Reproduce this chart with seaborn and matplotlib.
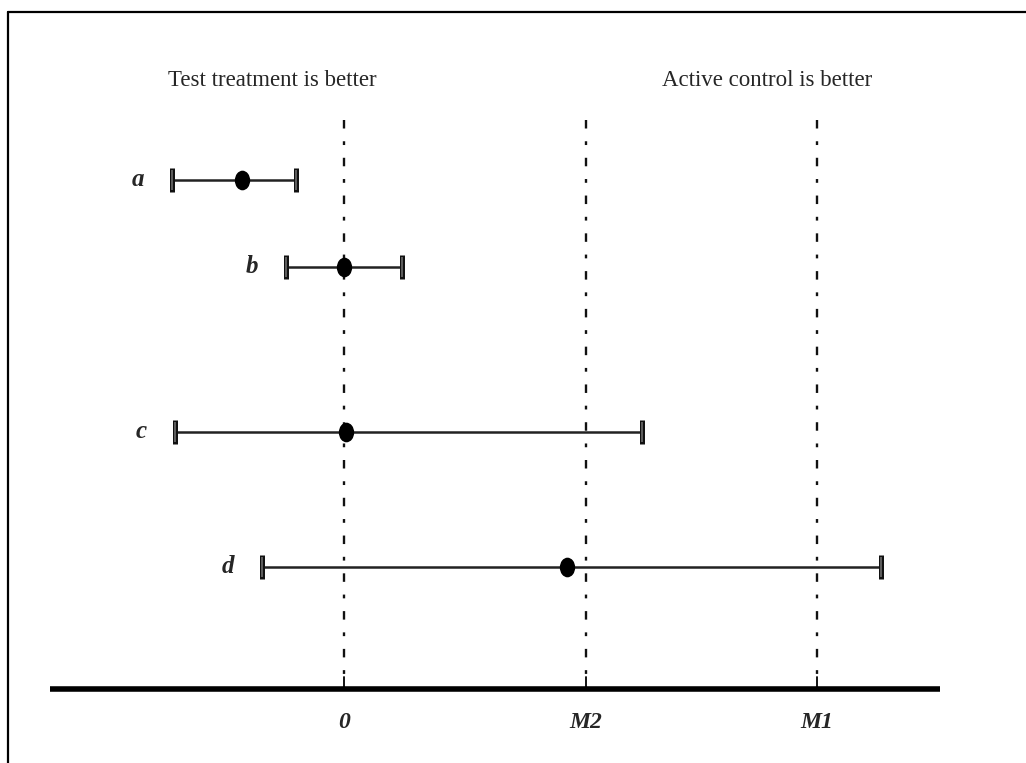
import matplotlib
matplotlib.use("Agg")
import matplotlib.pyplot as plt
from matplotlib.lines import Line2D
from matplotlib.markers import MarkerStyle
from matplotlib.transforms import Affine2D
import seaborn as sns
import pandas as pd

# Confidence intervals for the treatment difference (units of the M2 margin)
trials = ["a", "b", "c", "d"]
estimate = [-0.42, 0.0, 0.01, 0.92]
lower = [-0.71, -0.24, -0.70, -0.34]
upper = [-0.20, 0.24, 1.23, 2.22]
row_pos = [1.80, 2.67, 4.32, 5.67]

# Reference lines: no difference and the two non-inferiority margins
ref_names = ["0", "M2", "M1"]
ref_values = [0.0, 1.0, 1.955]

df = pd.DataFrame({"trial": trials, "est": estimate, "lo": lower,
                   "hi": upper, "row": row_pos})

sns.set_theme(style="white")
plt.rcParams["font.family"] = ["Liberation Serif", "DejaVu Serif"]

fig = plt.figure(figsize=(10.26, 7.63), dpi=100)
ax = fig.add_axes([0, 0, 1, 1])

axis_y = 6.89

# dash-dot reference lines
for v in ref_values:
    ax.plot([v, v], [1.20, axis_y], color="#111111", lw=1.7,
            linestyle=(0, (3.6, 5.4, 1.6, 5.4)), zorder=1)
    ax.plot([v, v], [axis_y - 0.12, axis_y], color="black", lw=1.3, zorder=2)

# horizontal axis line
ax.plot([-1.215, 2.463], [axis_y, axis_y], color="black", lw=4, zorder=3,
        solid_capstyle="butt")

for name, v in zip(ref_names, ref_values):
    ax.text(v, 7.22, name, ha="center", va="center", fontsize=17,
            fontweight="bold", fontstyle="italic")

# interval lines with capped ends
for _, r in df.iterrows():
    ax.plot([r.lo, r.hi], [r.row, r.row], color="#222222", lw=1.8, zorder=2)
    for end in (r.lo, r.hi):
        ax.plot([end, end], [r.row - 0.12, r.row + 0.12], color="#111111",
                lw=3.6, solid_capstyle="butt", zorder=3)
        ax.plot([end, end], [r.row - 0.10, r.row + 0.10], color="#666666",
                lw=1.3, solid_capstyle="butt", zorder=4)

# point estimates
ellipse = MarkerStyle("o", transform=Affine2D().scale(0.78, 1.0))
sns.scatterplot(data=df, x="est", y="row", marker=ellipse, s=200,
                color="black", edgecolor="black", linewidth=0, ax=ax, zorder=5,
                legend=False)
ax.set_xlim(-1.4215, 2.8182)
ax.set_ylim(7.63, 0)
ax.axis("off")

# trial labels to the left of each interval
for _, r in df.iterrows():
    ax.text(r.lo - 0.14, r.row + 0.06, r.trial, ha="center", va="baseline",
            fontsize=18, fontweight="bold", fontstyle="italic")

ax.text(-0.298, 0.80, "Test treatment is better", ha="center", va="center",
        fontsize=16.5)
ax.text(1.748, 0.81, "Active control is better", ha="center", va="center",
        fontsize=16.5)

# frame along the top and left edges
fig.add_artist(Line2D([8 / 1026, 1.0], [1 - 12 / 763, 1 - 12 / 763],
                      color="black", lw=1.6, transform=fig.transFigure))
fig.add_artist(Line2D([8 / 1026, 8 / 1026], [0, 1 - 12 / 763],
                      color="black", lw=1.6, transform=fig.transFigure))

fig.savefig("out.png", dpi=100)
